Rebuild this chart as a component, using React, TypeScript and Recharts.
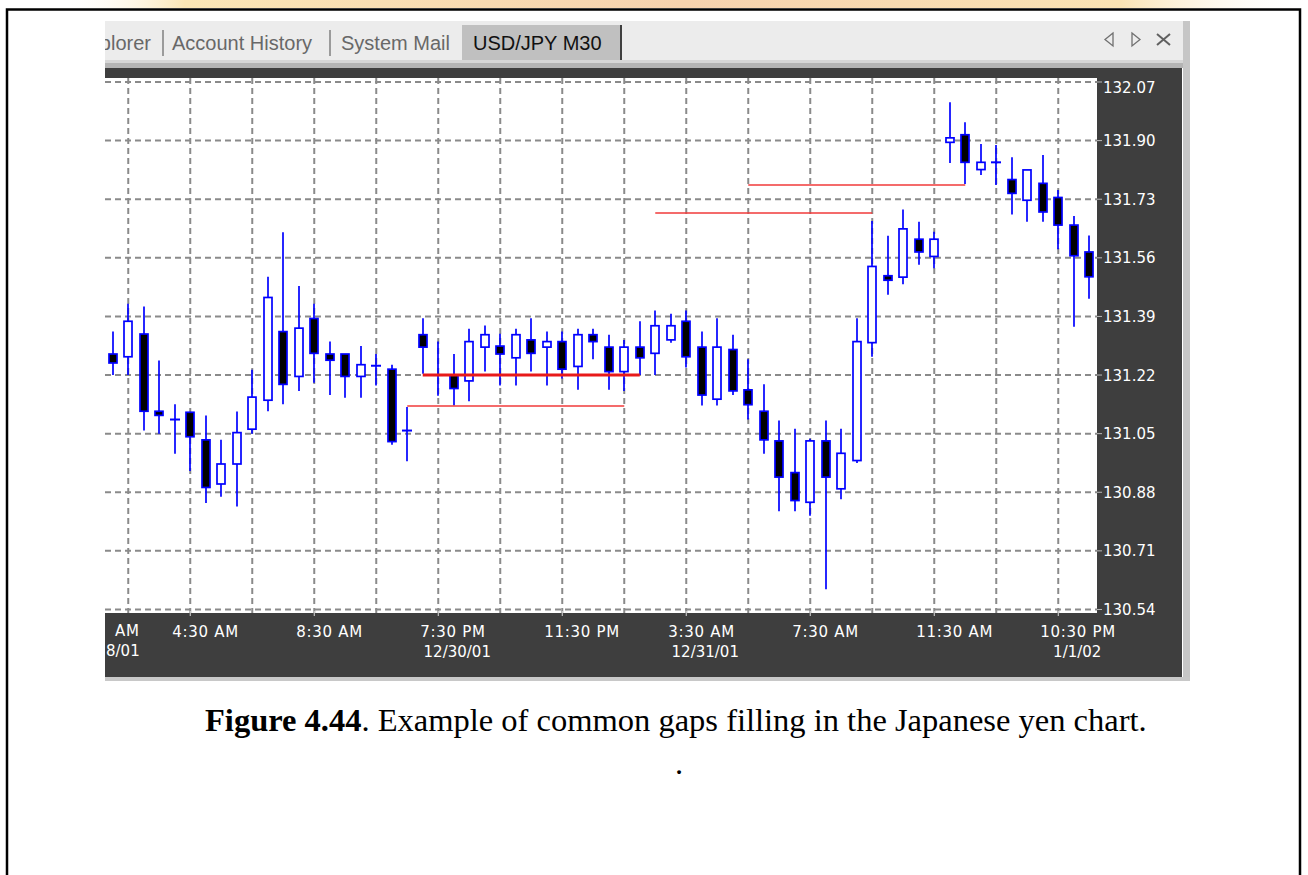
import { Bar, CartesianGrid, ComposedChart, ReferenceLine, XAxis, YAxis } from "recharts";

// USD/JPY M30 candles, left to right
const opens = [
  131.281, 131.273, 131.339, 131.115, 131.091, 131.112, 131.032, 130.904, 130.962, 131.063,
  131.147, 131.346, 131.216, 131.384, 131.281, 131.281, 131.216, 131.247, 131.237, 131.059,
  131.337, 131.22, 131.22, 131.203, 131.301, 131.304, 131.27, 131.322, 131.301, 131.317,
  131.245, 131.337, 131.301, 131.23, 131.301, 131.283, 131.322, 131.376, 131.301, 131.15,
  131.294, 131.177, 131.115, 131.029, 130.937, 130.851, 131.029, 130.89, 130.972, 131.314,
  131.508, 131.504, 131.614, 131.564, 131.895, 131.917, 131.816, 131.837, 131.787, 131.727,
  131.776, 131.735, 131.655, 131.577,
];
const highs = [
  131.346, 131.427, 131.419, 131.262, 131.135, 131.112, 131.103, 131.032, 131.114, 131.235,
  131.505, 131.634, 131.478, 131.427, 131.317, 131.281, 131.304, 131.281, 131.25, 131.127,
  131.385, 131.317, 131.281, 131.354, 131.364, 131.34, 131.354, 131.385, 131.346, 131.346,
  131.354, 131.354, 131.337, 131.322, 131.376, 131.407, 131.398, 131.407, 131.346, 131.385,
  131.337, 131.266, 131.193, 131.088, 131.064, 131.035, 131.088, 131.064, 131.385, 131.667,
  131.624, 131.7, 131.665, 131.636, 132.011, 131.953, 131.89, 131.887, 131.852, 131.815,
  131.858, 131.757, 131.681, 131.625,
];
const lows = [
  131.22, 131.22, 131.059, 131.05, 130.992, 130.942, 130.849, 130.867, 130.839, 131.05,
  131.115, 131.135, 131.174, 131.198, 131.162, 131.154, 131.154, 131.19, 131.018, 130.97,
  131.224, 131.16, 131.132, 131.144, 131.23, 131.19, 131.19, 131.23, 131.19, 131.21,
  131.177, 131.266, 131.177, 131.174, 131.22, 131.22, 131.314, 131.242, 131.132, 131.132,
  131.162, 131.091, 130.992, 130.825, 130.825, 130.812, 130.599, 130.86, 130.965, 131.273,
  131.453, 131.483, 131.54, 131.53, 131.835, 131.774, 131.8, 131.771, 131.686, 131.665,
  131.665, 131.585, 131.36, 131.441,
];
const closes = [
  131.255, 131.376, 131.115, 131.103, 131.091, 131.041, 130.894, 130.962, 131.053, 131.156,
  131.445, 131.193, 131.356, 131.283, 131.263, 131.216, 131.25, 131.247, 131.027, 131.059,
  131.301, 131.22, 131.181, 131.317, 131.337, 131.281, 131.337, 131.283, 131.317, 131.237,
  131.337, 131.317, 131.23, 131.301, 131.27, 131.363, 131.363, 131.273, 131.162, 131.301,
  131.174, 131.134, 131.032, 130.924, 130.856, 131.029, 130.924, 130.993, 131.317, 131.535,
  131.495, 131.644, 131.577, 131.614, 131.908, 131.837, 131.837, 131.837, 131.747, 131.815,
  131.693, 131.655, 131.566, 131.505,
];

const yTicks = [130.54, 130.71, 130.88, 131.05, 131.22, 131.39, 131.56, 131.73, 131.9, 132.07];

// bottom axis labels (candle index, time, date)
const tickIdx = [5, 13, 21, 29, 37, 45, 53, 61];
const tickTimes = ["4:30 AM", "8:30 AM", "7:30 PM", "11:30 PM", "3:30 AM", "7:30 AM", "11:30 AM", "10:30 PM"];
const tickDates = ["", "", "12/30/01", "", "12/31/01", "", "", "1/1/02"];
const gridIdx = [1, 5, 9, 13, 17, 21, 25, 29, 33, 37, 41, 45, 49, 53, 57, 61];

// red gap lines: from candle, to candle, price
const gapFrom = [20, 19, 35, 41];
const gapTo = [34, 33, 49, 55];
const gapPrice = [131.22, 131.13, 131.69, 131.771];

const data = opens.map((o, i) => ({ i, open: o, high: highs[i], low: lows[i], close: closes[i] }));

const BLUE = "#0000ff";
const AXIS_FONT = "'DejaVu Sans', sans-serif";
const GRID = "#8a8a8a";

function Candle(props: any) {
  const { x, y, width, height, payload } = props;
  if (!payload || height == null) return null;
  const { open, close, high, low } = payload;
  const yTop = Math.min(y, y + height);
  const yBot = Math.max(y, y + height);
  const py = (v: number) => yTop + ((high - v) / (high - low)) * (yBot - yTop);
  const cx = Math.round(x + width / 2);
  const bTop = py(Math.max(open, close));
  const bBot = py(Math.min(open, close));
  return (
    <g>
      <line x1={cx} x2={cx} y1={yTop} y2={yBot} stroke={BLUE} strokeWidth={1.7} />
      {open === close ? (
        <line x1={cx - 5} x2={cx + 5} y1={bTop} y2={bTop} stroke={BLUE} strokeWidth={2} />
      ) : (
        <rect
          x={cx - 4}
          y={bTop}
          width={8}
          height={Math.max(bBot - bTop, 1.5)}
          fill={close > open ? "#ffffff" : "#000000"}
          stroke={BLUE}
          strokeWidth={1.7}
        />
      )}
    </g>
  );
}

function XTick(props: any) {
  const { x, y, payload } = props;
  const k = tickIdx.indexOf(payload.value);
  if (k < 0) return <g />;
  return (
    <g>
      <line x1={x} x2={x} y1={y - 8} y2={y - 3} stroke="#dddddd" strokeWidth={1} />
      <text x={x - 18} y={y + 18} fill="#ffffff" fontSize={15} letterSpacing={0.7} fontFamily={AXIS_FONT}>
        {tickTimes[k]}
      </text>
      {tickDates[k] && (
        <text x={x + 19} y={y + 38} fill="#ffffff" fontSize={15} textAnchor="middle" fontFamily={AXIS_FONT}>
          {tickDates[k]}
        </text>
      )}
    </g>
  );
}

function YTick(props: any) {
  const { x, y, payload } = props;
  const top = payload.value === yTicks[yTicks.length - 1];
  return (
    <text x={x} y={y + (top ? 11.5 : 5.5)} fill="#ffffff" fontSize={15} fontFamily={AXIS_FONT}>
      {Number(payload.value).toFixed(2)}
    </text>
  );
}

export default function App() {
  return (
    <div style={{ position: "absolute", left: 0, top: 0, width: 1308, height: 875, background: "#fff", overflow: "hidden" }}>
      <svg width={1308} height={875} style={{ position: "absolute", left: 0, top: 0 }}>
        <defs>
          <linearGradient id="topband" x1="0" x2="1" y1="0" y2="0">
            <stop offset="0" stopColor="#ffffff" stopOpacity={0} />
            <stop offset="0.1" stopColor="#fbe6b6" />
            <stop offset="0.5" stopColor="#f6d2ae" />
            <stop offset="0.85" stopColor="#fae3b4" />
            <stop offset="1" stopColor="#ffffff" stopOpacity={0} />
          </linearGradient>
          <clipPath id="tabclip">
            <rect x={105} y={20} width={1080} height={42} />
          </clipPath>
        </defs>
        <rect x={60} y={0} width={1248} height={8} fill="url(#topband)" />
        <rect x={7} y={9.5} width={1293} height={900} fill="none" stroke="#000" strokeWidth={2.5} />

        {/* terminal tab bar */}
        <rect x={105} y={21} width={1078} height={39} fill="#ececec" />
        <rect x={105} y={60} width={1078} height={3} fill="#d6d6d6" />
        <rect x={105} y={63} width={1078} height={5} fill="#b4b4b4" />
        <rect x={1183} y={21} width={7} height={660} fill="#c6c6c6" />
        <rect x={105} y={677} width={1085} height={4} fill="#c8c8c8" />
        <g clipPath="url(#tabclip)" fontFamily="'Liberation Sans', Arial, sans-serif" fontSize={20}>
          <text x={151} y={50} textAnchor="end" fill="#686868">Explorer</text>
          <line x1={163} x2={163} y1={30} y2={56} stroke="#808080" strokeWidth={1.5} />
          <text x={172} y={50} fill="#686868">Account History</text>
          <line x1={330} x2={330} y1={30} y2={56} stroke="#808080" strokeWidth={1.5} />
          <text x={341} y={50} fill="#686868">System Mail</text>
          <rect x={462} y={25} width={159} height={35} fill="#c0c0c0" />
          <rect x={620} y={25} width={2} height={35} fill="#404040" />
          <text x={473} y={50} fill="#111">USD/JPY M30</text>
        </g>
        <polygon points="1113,33 1105,39.5 1113,46" fill="none" stroke="#707070" strokeWidth={1.3} />
        <polygon points="1132,33 1140,39.5 1132,46" fill="none" stroke="#707070" strokeWidth={1.3} />
        <line x1={1157} y1={34} x2={1170} y2={45} stroke="#606060" strokeWidth={2} />
        <line x1={1170} y1={34} x2={1157} y2={45} stroke="#606060" strokeWidth={2} />

        <text x={205} y={731} fontFamily="'Liberation Serif', 'Times New Roman', serif" fontSize={32.5} fill="#000">
          <tspan fontWeight="bold">Figure 4.44</tspan>. Example of common gaps filling in the Japanese yen chart.
        </text>
        <text x={675} y={774} fontFamily="'Liberation Serif', serif" fontSize={32.5} fill="#000">.</text>
      </svg>

      <div style={{ position: "absolute", left: 105, top: 68, width: 1077, height: 609, background: "#3e3e3e", overflow: "hidden" }}>
        <ComposedChart width={1077} height={609} data={data} margin={{ top: 10, right: 0, left: 0, bottom: 0 }}>
          <CartesianGrid
            fill="#ffffff"
            fillOpacity={1}
            stroke={GRID}
            strokeWidth={2}
            strokeDasharray="6 4"
            horizontal={true}
            vertical={true}
            syncWithTicks={true}
          />
          <XAxis
            dataKey="i"
            type="category"
            ticks={gridIdx}
            interval={0}
            height={64}
            axisLine={false}
            tickLine={false}
            tickSize={4}
            tickMargin={2}
            tick={<XTick />}
          />
          <YAxis
            orientation="right"
            type="number"
            width={85}
            domain={[130.5298, 132.0816]}
            ticks={yTicks}
            allowDataOverflow
            axisLine={false}
            tickLine={{ stroke: "#bbbbbb" }}
            tickSize={5}
            tickMargin={1}
            tick={<YTick />}
          />
          <Bar
            dataKey={(d: any) => [d.low, d.high]}
            barSize={9}
            shape={(p: any) => <Candle {...p} />}
            isAnimationActive={false}
          />
          {gapFrom.map((f, k) => (
            <ReferenceLine
              key={k}
              segment={[
                { x: f, y: gapPrice[k] },
                { x: gapTo[k], y: gapPrice[k] },
              ]}
              stroke={k === 0 ? "#e81a1a" : "#f03a3a"}
              strokeWidth={k === 0 ? 3 : 1.5}
            />
          ))}
        </ComposedChart>
        <div style={{ position: "absolute", left: 10, top: 553, whiteSpace: "nowrap", color: "#fff", fontSize: 15, letterSpacing: 0.7, fontFamily: AXIS_FONT, lineHeight: "20px" }}>
          AM
        </div>
        <div style={{ position: "absolute", left: 1, top: 573, whiteSpace: "nowrap", color: "#fff", fontSize: 15, fontFamily: AXIS_FONT, lineHeight: "20px" }}>
          8/01
        </div>
      </div>
    </div>
  );
}
